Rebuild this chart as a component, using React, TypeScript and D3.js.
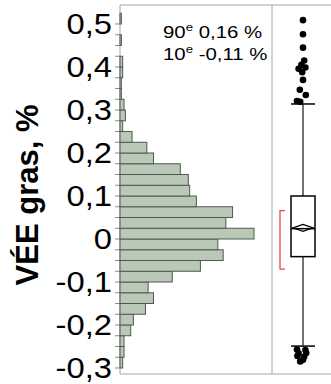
import React, { useEffect, useRef } from 'react';
import * as d3 from 'd3';

// histogram bins (lower edge) and counts
const binLower = [-0.3, -0.275, -0.25, -0.225, -0.2, -0.175, -0.15, -0.125, -0.1, -0.075, -0.05, -0.025,
  0, 0.025, 0.05, 0.075, 0.1, 0.125, 0.15, 0.175, 0.2, 0.225, 0.25, 0.275, 0.3, 0.325, 0.35, 0.375,
  0.4, 0.425, 0.45, 0.475, 0.5];
const binCounts = [2, 3, 3, 8, 10, 19, 25, 21, 39, 60, 77, 73,
  100, 79, 84, 57, 52, 51, 45, 25, 20, 9, 2, 4, 3, 1, 1, 2,
  2, 0, 1, 0, 1];
const binWidth = 0.025;

const tickValues = [-0.3, -0.2, -0.1, 0, 0.1, 0.2, 0.3, 0.4, 0.5];
const tickLabels = ['-0,3', '-0,2', '-0,1', '0', '0,1', '0,2', '0,3', '0,4', '0,5'];
const minorTicks = [-0.3, -0.275, -0.25, -0.225, -0.2, -0.175, -0.15, -0.125, -0.1, -0.075, -0.05, -0.025,
  0, 0.025, 0.05, 0.075, 0.1, 0.125, 0.15, 0.175, 0.2, 0.225, 0.25, 0.275, 0.3, 0.325, 0.35, 0.375,
  0.4, 0.425, 0.45, 0.475, 0.5];

// box plot summary
const boxStats = { q1: -0.041, median: 0.024, q3: 0.1, mean: 0.026, lowWhisker: -0.249, highWhisker: 0.314 };
const shortestHalf = [-0.07, 0.066];
const outlierValues = [0.509, 0.476, 0.445, 0.415, 0.405, 0.396, 0.399, 0.388, 0.37, 0.347, 0.335, 0.321, 0.319,
  -0.257, -0.258, -0.266, -0.265, -0.272, -0.281, -0.285, -0.274];
const outlierJitter = [0, 0, 0, 0.15, -0.2, -0.55, 0.3, -0.1, 0, -0.4, 0.35, -0.75, -0.35,
  -0.75, 0.3, -0.55, 0.4, -0.7, 0, -0.35, 0.15];

const annotations = [
  { rank: '90', value: ' 0,16 %' },
  { rank: '10', value: ' -0,11 %' },
];

const W = 331;
const H = 384;

const App: React.FC = () => {
  const svgRef = useRef<SVGSVGElement>(null);

  useEffect(() => {
    if (!svgRef.current) return;
    const svg = d3.select(svgRef.current);
    svg.selectAll('*').remove();

    const font = 'Liberation Sans, Arial, sans-serif';
    const plotLeft = 120;
    const plotTop = 5;
    const plotBottom = 374;
    const divider = 272;

    const y = d3.scaleLinear().domain([-0.3, 0.5]).range([368, 24]);
    const x = d3.scaleLinear().domain([0, 100]).range([plotLeft, plotLeft + 134]);

    // frame
    svg.append('path')
      .attr('d', `M${plotLeft},${plotBottom}V${plotTop}H${W + 5}`)
      .attr('fill', 'none')
      .attr('stroke', '#a8a8a8')
      .attr('stroke-width', 1);
    svg.append('line')
      .attr('x1', plotLeft).attr('x2', W + 5)
      .attr('y1', plotBottom).attr('y2', plotBottom)
      .attr('stroke', '#a8a8a8');
    svg.append('line')
      .attr('x1', divider).attr('x2', divider)
      .attr('y1', plotTop).attr('y2', plotBottom)
      .attr('stroke', '#a8a8a8');

    // ticks
    svg.append('g')
      .selectAll('line')
      .data(minorTicks)
      .enter()
      .append('line')
      .attr('x1', plotLeft - 5)
      .attr('x2', plotLeft)
      .attr('y1', d => y(d))
      .attr('y2', d => y(d))
      .attr('stroke', '#8c8c8c');

    svg.append('g')
      .selectAll('text')
      .data(tickValues)
      .enter()
      .append('text')
      .attr('transform', d => `translate(${plotLeft - 8},${y(d)}) scale(1.13,1)`)
      .attr('dy', '0.36em')
      .attr('text-anchor', 'end')
      .style('font-family', font)
      .style('font-size', '29px')
      .attr('fill', '#000')
      .text((d, i) => tickLabels[i]);

    // axis title
    svg.append('text')
      .attr('transform', `translate(38, 195) rotate(-90)`)
      .attr('text-anchor', 'middle')
      .style('font-family', font)
      .style('font-size', '31px')
      .style('font-weight', 'bold')
      .text('VÉE gras, %');

    // histogram bars
    svg.append('g')
      .selectAll('rect')
      .data(binLower.map((b, i) => ({ b, c: binCounts[i] })).filter(d => d.c > 0))
      .enter()
      .append('rect')
      .attr('x', plotLeft)
      .attr('y', d => y(d.b + binWidth))
      .attr('width', d => x(d.c) - plotLeft)
      .attr('height', d => y(d.b) - y(d.b + binWidth))
      .attr('fill', '#b9c8b7')
      .attr('stroke', '#4f5a4f')
      .attr('stroke-width', 1);

    // annotation
    const ann = svg.append('g');
    annotations.forEach((a, i) => {
      const t = ann.append('text')
        .attr('transform', `translate(163,${38 + i * 22}) scale(1.2,1)`)
        .style('white-space', 'pre')
        .style('font-family', font)
        .style('font-size', '17px');
      t.append('tspan').text(a.rank);
      t.append('tspan').attr('dy', -7).style('font-size', '11px').text('e');
      t.append('tspan').attr('dy', 7).text(a.value);
    });

    // box plot
    const cx = 303;
    const half = 12;
    const jit = d3.scaleLinear().domain([-1, 1]).range([cx - 8, cx + 8]);
    const bp = svg.append('g');
    bp.append('line')
      .attr('x1', cx).attr('x2', cx)
      .attr('y1', y(boxStats.highWhisker)).attr('y2', y(boxStats.q3))
      .attr('stroke', '#444').attr('stroke-width', 1.5);
    bp.append('line')
      .attr('x1', cx).attr('x2', cx)
      .attr('y1', y(boxStats.q1)).attr('y2', y(boxStats.lowWhisker))
      .attr('stroke', '#444').attr('stroke-width', 1.5);
    [boxStats.highWhisker, boxStats.lowWhisker].forEach(v => {
      bp.append('line')
        .attr('x1', cx - half).attr('x2', cx + half)
        .attr('y1', y(v)).attr('y2', y(v))
        .attr('stroke', '#000').attr('stroke-width', 1.5);
    });
    bp.append('rect')
      .attr('x', cx - half)
      .attr('y', y(boxStats.q3))
      .attr('width', half * 2)
      .attr('height', y(boxStats.q1) - y(boxStats.q3))
      .attr('fill', '#fff')
      .attr('stroke', '#000')
      .attr('stroke-width', 1.5);
    const my = y(boxStats.mean);
    bp.append('path')
      .attr('d', `M${cx - 10},${my}L${cx},${my - 3.5}L${cx + 10},${my}L${cx},${my + 3.5}Z`)
      .attr('fill', '#fff')
      .attr('stroke', '#000')
      .attr('stroke-width', 1.2);
    bp.append('line')
      .attr('x1', cx - half).attr('x2', cx + half)
      .attr('y1', y(boxStats.median)).attr('y2', y(boxStats.median))
      .attr('stroke', '#000').attr('stroke-width', 1.5);

    // shortest half bracket
    const bx = 280;
    bp.append('path')
      .attr('d', `M${bx + 5},${y(shortestHalf[1])}H${bx}V${y(shortestHalf[0])}H${bx + 5}`)
      .attr('fill', 'none')
      .attr('stroke', '#e4465c')
      .attr('stroke-width', 1.3);

    // outliers
    bp.selectAll('circle')
      .data(outlierValues)
      .enter()
      .append('circle')
      .attr('cx', (d, i) => jit(outlierJitter[i]))
      .attr('cy', d => y(d))
      .attr('r', 3.3)
      .attr('fill', '#000');
  }, []);

  return (
    <svg
      ref={svgRef}
      width={W}
      height={H}
      style={{ position: 'absolute', left: 0, top: 0, background: '#fff' }}
    />
  );
};

export default App;
